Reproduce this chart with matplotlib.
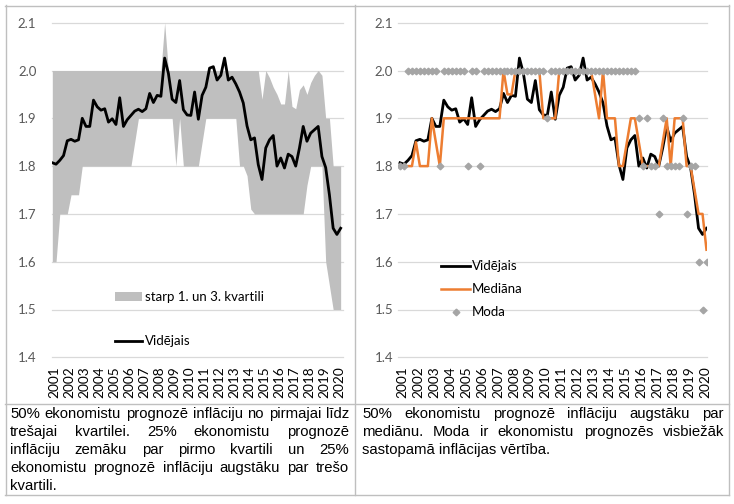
import numpy as np
import matplotlib
matplotlib.use("Agg")
import matplotlib.pyplot as plt
import matplotlib.font_manager as fm
from matplotlib.lines import Line2D
from matplotlib.patches import Patch

W, H = 734, 504

# quarterly observations, 78 points
years = [str(y) for y in range(2001, 2021)]

mean_vals = [1.807, 1.804, 1.812, 1.822, 1.853, 1.856, 1.852, 1.855, 1.900, 1.883,
             1.883, 1.938, 1.924, 1.917, 1.920, 1.892, 1.899, 1.887, 1.943, 1.883,
             1.897, 1.906, 1.915, 1.919, 1.914, 1.920, 1.952, 1.933, 1.948, 1.946,
             2.026, 1.994, 1.940, 1.933, 1.979, 1.918, 1.907, 1.906, 1.955, 1.898,
             1.948, 1.965, 2.005, 2.008, 1.980, 1.990, 2.026, 1.980, 1.986, 1.972,
             1.955, 1.932, 1.884, 1.855, 1.859, 1.803, 1.772, 1.838, 1.855, 1.864,
             1.800, 1.817, 1.796, 1.825, 1.820, 1.800, 1.838, 1.883, 1.852, 1.869,
             1.876, 1.883, 1.820, 1.797, 1.740, 1.670, 1.657, 1.670]

q1_vals = [1.6, 1.6, 1.7, 1.7, 1.7, 1.74, 1.74, 1.74, 1.8, 1.8,
           1.8, 1.8, 1.8, 1.8, 1.8, 1.8, 1.8, 1.8, 1.8, 1.8,
           1.8, 1.8, 1.85, 1.9, 1.9, 1.9, 1.9, 1.9, 1.9, 1.9,
           1.9, 1.9, 1.9, 1.8, 1.9, 1.8, 1.8, 1.8, 1.8, 1.8,
           1.85, 1.9, 1.9, 1.9, 1.9, 1.9, 1.9, 1.9, 1.9, 1.9,
           1.8, 1.8, 1.78, 1.71, 1.7, 1.7, 1.7, 1.7, 1.7, 1.7,
           1.7, 1.7, 1.7, 1.7, 1.7, 1.7, 1.7, 1.7, 1.76, 1.8,
           1.8, 1.8, 1.8, 1.6, 1.55, 1.5, 1.5, 1.5]

q3_vals = [2.0, 2.0, 2.0, 2.0, 2.0, 2.0, 2.0, 2.0, 2.0, 2.0,
           2.0, 2.0, 2.0, 2.0, 2.0, 2.0, 2.0, 2.0, 2.0, 2.0,
           2.0, 2.0, 2.0, 2.0, 2.0, 2.0, 2.0, 2.0, 2.0, 2.0,
           2.1, 2.0, 2.0, 2.0, 2.0, 2.0, 2.0, 2.0, 2.0, 2.0,
           2.0, 2.0, 2.0, 2.0, 2.0, 2.0, 2.0, 2.0, 2.0, 2.0,
           2.0, 2.0, 2.0, 2.0, 2.0, 2.0, 1.94, 2.0, 1.985, 1.965,
           1.95, 1.93, 1.93, 2.0, 1.925, 1.92, 1.96, 1.97, 1.95, 1.975,
           1.99, 2.0, 1.99, 1.9, 1.9, 1.8, 1.8, 1.8]

median_vals = [1.8, 1.8, 1.8, 1.8, 1.85, 1.8, 1.8, 1.8, 1.9, 1.85,
               1.8, 1.9, 1.9, 1.9, 1.9, 1.9, 1.9, 1.9, 1.9, 1.9,
               1.9, 1.9, 1.9, 1.9, 1.9, 1.9, 2.0, 1.95, 1.95, 2.0,
               2.0, 2.0, 2.0, 2.0, 2.0, 2.0, 1.9, 1.9, 1.9, 1.9,
               2.0, 2.0, 2.0, 2.0, 2.0, 2.0, 2.0, 2.0, 2.0, 1.95,
               1.9, 2.0, 1.9, 1.9, 1.9, 1.8, 1.8, 1.85, 1.9, 1.9,
               1.85, 1.8, 1.8, 1.8, 1.8, 1.8, 1.85, 1.9, 1.8, 1.9,
               1.9, 1.9, 1.8, 1.8, 1.75, 1.7, 1.7, 1.625]

mode_vals = [1.8, 1.8, 2.0, 2.0, 2.0, 2.0, 2.0, 2.0, 2.0, 2.0,
             1.8, 2.0, 2.0, 2.0, 2.0, 2.0, 2.0, 1.8, 2.0, 2.0,
             1.8, 2.0, 2.0, 2.0, 2.0, 2.0, 2.0, 2.0, 2.0, 2.0,
             2.0, 2.0, 2.0, 2.0, 2.0, 2.0, 2.0, 1.9, 2.0, 2.0,
             2.0, 2.0, 2.0, 2.0, 2.0, 2.0, 2.0, 2.0, 2.0, 2.0,
             2.0, 2.0, 2.0, 2.0, 2.0, 2.0, 2.0, 2.0, 2.0, 2.0,
             1.9, 1.8, 1.9, 1.8, 1.8, 1.7, 1.9, 1.8, 1.8, 1.8,
             1.8, 1.9, 1.7, 1.8, 1.8, 1.6, 1.5, 1.6]

yticks = [1.4, 1.5, 1.6, 1.7, 1.8, 1.9, 2.0, 2.1]

left_text = ["50% ekonomistu prognozē inflāciju no pirmajai līdz",
             "trešajai kvartilei. 25% ekonomistu prognozē",
             "inflāciju zemāku par pirmo kvartili un 25%",
             "ekonomistu prognozē inflāciju augstāku par trešo",
             "kvartili."]
right_text = ["50% ekonomistu prognozē inflāciju augstāku par",
              "mediānu. Moda ir ekonomistu prognozēs visbiežāk",
              "sastopamā inflācijas vērtība."]

BAND = "#bfbfbf"
ORANGE = "#ed7d31"
MODE_C = "#a5a5a5"
GRID = "#d9d9d9"
BORDER = "#bfbfbf"

names = {f.name for f in fm.fontManager.ttflist}
chart_font = "Lato" if "Lato" in names else "DejaVu Sans"
body_font = "Liberation Sans Narrow" if "Liberation Sans Narrow" in names else "Liberation Sans"
plt.rcParams["font.family"] = [chart_font, "DejaVu Sans"]

fig = plt.figure(figsize=(W / 100, H / 100), dpi=100)


def px_axes(x0, y0, x1, y1):
    return fig.add_axes([x0 / W, 1 - y1 / H, (x1 - x0) / W, (y1 - y0) / H])


def style_axes(ax, xlim, ypad):
    ax.set_xlim(*xlim)
    ax.set_ylim(1.4, 2.1)
    ax.set_yticks(yticks)
    ax.set_yticklabels([f"{v:.1f}" for v in yticks])
    ax.set_xticks(np.arange(len(years)) * 4 + 0.6)
    ax.set_xticklabels(years, rotation=90)
    for s in ax.spines.values():
        s.set_visible(False)
    ax.tick_params(axis="y", length=0, pad=ypad, labelsize=9.5, labelcolor="#595959")
    ax.tick_params(axis="x", length=0, pad=6.5, labelsize=9.8, labelcolor="#000000")
    ax.yaxis.grid(True, color=GRID, lw=0.9)
    ax.set_axisbelow(True)
    for gl in ax.get_ygridlines():
        gl.set_clip_on(False)


idx = np.arange(len(mean_vals))

# left chart: interquartile band + mean
ax1 = px_axes(52.3, 22.7, 342.9, 357.3)
style_axes(ax1, (0, 77.6), 11.5)
ax1.fill_between(idx, q1_vals, q3_vals, color=BAND, lw=0, zorder=1)
ax1.plot(idx, mean_vals, color="black", lw=2.0, zorder=3)
h1 = [Patch(facecolor=BAND, edgecolor="none"),
      Line2D([], [], color="black", lw=2.0)]
ax1.legend(h1, ["starp 1. un 3. kvartili", "Vidējais"], loc="upper left",
           bbox_to_anchor=(115 / W, 1 - 291 / H), bbox_transform=fig.transFigure,
           frameon=False, fontsize=9.5, handlelength=2.05, handleheight=0.6,
           handletextpad=0.2, labelspacing=2.45, borderpad=0, borderaxespad=0)

# right chart: mean, median, mode
ax2 = px_axes(398.3, 22.7, 707.3, 357.3)
style_axes(ax2, (-0.43, 77.2), 3.6)
ax2.plot(idx, mean_vals, color="black", lw=2.0, zorder=2)
ax2.plot(idx, median_vals, color=ORANGE, lw=1.8, zorder=3)
ax2.plot(idx, mode_vals, ls="none", marker="D", ms=3.4, color=MODE_C, zorder=4)
h2 = [Line2D([], [], color="black", lw=2.0),
      Line2D([], [], color=ORANGE, lw=1.8),
      Line2D([], [], ls="none", marker="D", ms=3.4, color=MODE_C)]
ax2.legend(h2, ["Vidējais", "Mediāna", "Moda"], loc="upper left",
           bbox_to_anchor=(441 / W, 1 - 260.5 / H), bbox_transform=fig.transFigure,
           frameon=False, fontsize=9.5, handlelength=2.2, handletextpad=0.12,
           labelspacing=0.82, borderpad=0, borderaxespad=0)

# table borders
def hline(y, x0, x1):
    fig.add_artist(Line2D([x0 / W, x1 / W], [1 - y / H, 1 - y / H], color=BORDER, lw=1))


def vline(x, y0, y1):
    fig.add_artist(Line2D([x / W, x / W], [1 - y0 / H, 1 - y1 / H], color=BORDER, lw=1))


hline(5.5, 5, 729)
hline(403.5, 5, 729)
hline(494.5, 5, 729)
vline(5.5, 5, 495)
vline(354.5, 5, 495)
vline(728.5, 5, 495)


# justified captions under the charts
def justify(lines, x0, x1, y_first, dy, fs):
    r = fig.canvas.get_renderer()
    for li, line in enumerate(lines):
        y = 1 - (y_first + li * dy) / H
        words = line.split()
        last = li == len(lines) - 1
        if last or len(words) == 1:
            fig.text(x0 / W, y, line, fontsize=fs, family=body_font, va="baseline", color="black")
            continue
        ts = [fig.text(0, y, w, fontsize=fs, family=body_font, va="baseline", color="black")
              for w in words]
        widths = [t.get_window_extent(r).width for t in ts]
        gap = (x1 - x0 - sum(widths)) / (len(words) - 1)
        x = x0
        for t, w in zip(ts, widths):
            t.set_x(x / W)
            x += w + gap


def fit_size(line, width):
    r = fig.canvas.get_renderer()
    t = fig.text(0, 0, line, fontsize=10, family=body_font)
    w = t.get_window_extent(r).width
    t.remove()
    return 10 * width / w


fs_body = min(fit_size(left_text[0], 336), 11)
justify(left_text, 10, 349, 418, 18, fs_body)
justify(right_text, 362, 724, 418, 18, fs_body)

fig.savefig("out.png", dpi=100)
